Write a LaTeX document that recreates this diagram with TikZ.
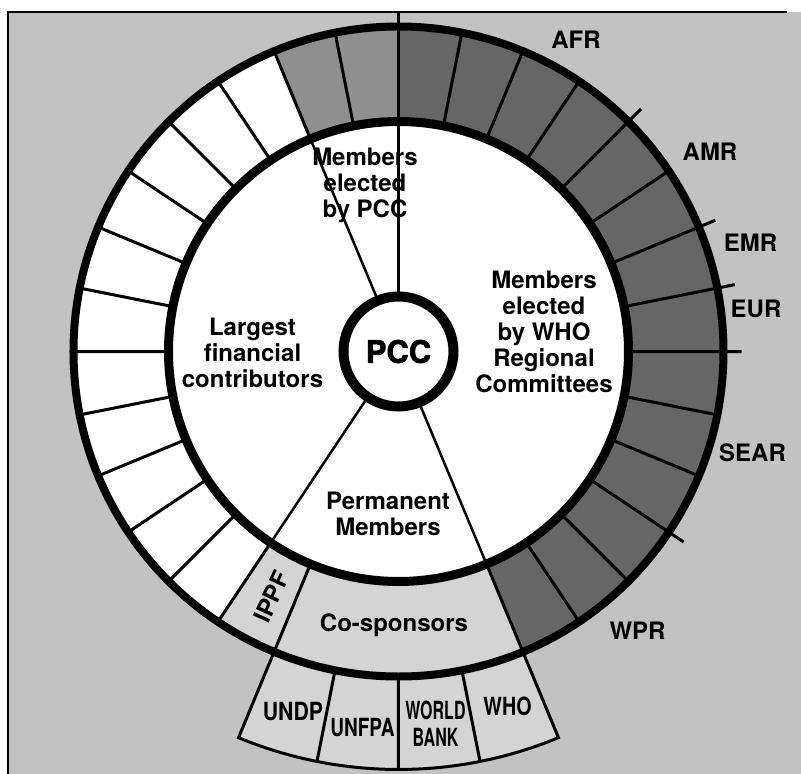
\documentclass[tikz,border=0pt]{standalone}
\usepackage{fontspec}
\setmainfont{TeX Gyre Heros}
\newfontfamily\pccfont{TeX Gyre Heros}[BoldFeatures={FakeBold=2}]
\usepackage{tikz}
\definecolor{framegray}{gray}{0.76}
\definecolor{regiongray}{gray}{0.40}
\definecolor{electgray}{gray}{0.56}
\definecolor{sponsorgray}{gray}{0.83}

\begin{document}
\begin{tikzpicture}[x=1pt,y=1pt]
        \tikzstyle{every node}+=[inner sep=0pt, font=\bfseries\fontsize{24}{26}\selectfont]
        \tikzstyle{divider}=[black, line width=3]
        \tikzstyle{spoke}=[black, line width=2.5]
        \tikzstyle{agency}=[font=\bfseries\fontsize{25}{27}\selectfont, align=center]
        \useasboundingbox (-398.5,-422.5) rectangle (402.5,351.5);
        \fill [white] (-398.5,-422.5) rectangle (402.5,351.5);
        \fill [framegray] (-390.5,-422.5) rectangle (402.5,339.5);
        \draw [black, line width=2] (-390.5,-422.5) -- (-390.5,339.5) -- (388,339.5);
        \coordinate (top) at (0,339.5);
        \fill [regiongray] (90:230) arc (90:-67.5:230) -- (-67.5:325) arc (-67.5:90:325) -- cycle;
        \fill [electgray] (90:230) arc (90:112.5:230) -- (112.5:325) arc (112.5:90:325) -- cycle;
        \fill [white] (112.5:230) arc (112.5:236.25:230) -- (236.25:325) arc (236.25:112.5:325) -- cycle;
        \fill [sponsorgray] (236.25:230) arc (236.25:292.5:230) -- (292.5:325) arc (292.5:236.25:325) -- cycle;
        \fill [sponsorgray] (247.5:325) arc (247.5:292.5:325) -- (292.5:418) arc (292.5:247.5:418) -- cycle;
        \fill [white] (0,0) circle (230);
        \draw [divider] (78.75:230) -- (78.75:325) (67.5:230) -- (67.5:325) (56.25:230) -- (56.25:325) (33.75:230) -- (33.75:325);
        \draw [divider] (-11.25:230) -- (-11.25:325) (-22.5:230) -- (-22.5:325) (-45:230) -- (-45:325) (-56.25:230) -- (-56.25:325);
        \draw [divider] (45:230) -- (45:343) (22.5:230) -- (22.5:343) (11.25:230) -- (11.25:343) (0:230) -- (0:343) (-33.75:230) -- (-33.75:343);
        \draw [divider] (101.25:230) -- (101.25:325) (112.5:230) -- (112.5:325) (123.75:230) -- (123.75:325) (135:230) -- (135:325);
        \draw [divider] (146.25:230) -- (146.25:325) (157.5:230) -- (157.5:325) (168.75:230) -- (168.75:325) (180:230) -- (180:325);
        \draw [divider] (191.25:230) -- (191.25:325) (202.5:230) -- (202.5:325) (213.75:230) -- (213.75:325) (225:230) -- (225:325);
        \draw [divider] (236.25:230) -- (236.25:325) (247.5:230) -- (247.5:418) arc (247.5:292.5:418) -- (292.5:230);
        \draw [divider] (258.75:325) -- (258.75:418) (270:325) -- (270:418) (281.25:325) -- (281.25:418);
        \draw [black, line width=9] (0,0) circle (230);
        \draw [black, line width=8] (0,0) circle (325);
        \node (pcc) [circle, draw, line width=10, fill=white, minimum size=110, font=\pccfont\bfseries\fontsize{31}{31}\selectfont] at (0,0) {PCC};
        \draw [spoke] (pcc.90) -- (top);
        \draw [spoke] (pcc.112.5) -- (112.5:230);
        \draw [spoke] (pcc.236.25) -- (236.25:230);
        \draw [spoke] (pcc.292.5) -- (292.5:230);
        \node (afr) at (177.5,312) {AFR};
        \node (amr) at (311.5,199.8) {AMR};
        \node (emr) at (352,108.5) {EMR};
        \node (eur) at (357.5,42.5) {EUR};
        \node (sear) at (354,-101.2) {SEAR};
        \node (wpr) at (239,-279.3) {WPR};
        \node (bypcc) [align=center] at (-33.5,166.5) {Members\\elected\\by PCC};
        \node (bywho) [align=center] at (145.5,19.8) {Members\\elected\\by WHO\\Regional\\Committees};
        \node (largest) [align=center] at (-146,-1.8) {Largest\\financial\\contributors};
        \node (permanent) [align=center] at (-10.5,-162.5) {Permanent\\Members};
        \node (cosponsors) at (-4.5,-273.5) {Co-sponsors};
        \node (ippf) [rotate=65] at (-126.8,-245.2) {IPPF};
        \node (undp) [agency, xscale=0.85] at (-105.5,-360.5) {UNDP};
        \node (unfpa) [agency, xscale=0.76] at (-36,-376.2) {UNFPA};
        \node (worldbank) [agency, xscale=0.64] at (37,-371.8) {WORLD\\BANK};
        \node (who) [agency, xscale=0.79] at (109,-355.2) {WHO};
\end{tikzpicture}
\end{document}
